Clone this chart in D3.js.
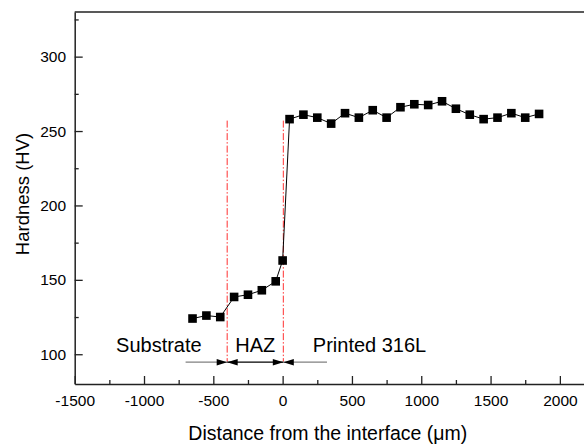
<!DOCTYPE html>
<html>
<head>
<meta charset="utf-8">
<script src="https://cdn.jsdelivr.net/npm/d3@7"></script>
<style>
  body { margin: 0; background: #fff; }
  svg { display: block; font-family: "Liberation Sans", Arial, sans-serif; }
</style>
</head>
<body>
<div id="chart"></div>
<script>
// hardness profile across the interface
var distance = [-650, -550, -450, -350, -250, -150, -50, 0, 50, 150, 250, 350, 450, 550,
                650, 750, 850, 950, 1050, 1150, 1250, 1350, 1450, 1550, 1650, 1750, 1850];
var hardness = [124, 126, 125, 138.5, 140, 143, 149, 163, 258, 261, 259, 255, 262, 259,
                264, 259, 266, 268, 267.5, 270, 265, 261, 258, 259, 262, 259, 261.5];
var xTicks = [-1500, -1000, -500, 0, 500, 1000, 1500, 2000];
var yTicks = [100, 150, 200, 250, 300];
var boundaries = [-400, 5];          // substrate | HAZ | printed
var boundaryHV = [95, 257];          // vertical extent of the dash-dot lines
var regions = ["Substrate", "HAZ", "Printed 316L"];
var arrowSpan = [-700, 320];

var width = 584, height = 444;

var svg = d3.select("#chart").append("svg")
    .attr("width", width)
    .attr("height", height);

var x = d3.scaleLinear().domain([-1500, 2200]).range([74.7, 587.6]);
var y = d3.scaleLinear().domain([80, 330]).range([384, 12]);

var pts = distance.map(function(d, i) { return {x: d, y: hardness[i]}; });
var plain = function(d) { return String(d); };

// frame (top line, right side is cropped off)
svg.append("line")
    .attr("x1", x(-1500)).attr("x2", x(2200))
    .attr("y1", y(330)).attr("y2", y(330))
    .attr("stroke", "#222").attr("stroke-width", 1.5);

// minor ticks
svg.append("g")
    .attr("transform", "translate(0," + y(80) + ")")
    .call(d3.axisBottom(x).tickValues(d3.range(-1250, 2200, 500)).tickSize(-4).tickFormat(""))
    .call(function(g) { g.select(".domain").remove(); })
    .selectAll("line").attr("stroke", "#222").attr("stroke-width", 1.3);
svg.append("g")
    .attr("transform", "translate(" + x(-1500) + ",0)")
    .call(d3.axisLeft(y).tickValues([125, 175, 225, 275, 325]).tickSize(-4).tickFormat(""))
    .call(function(g) { g.select(".domain").remove(); })
    .selectAll("line").attr("stroke", "#222").attr("stroke-width", 1.3);

// main axes
var xAxis = svg.append("g")
    .attr("transform", "translate(0," + y(80) + ")")
    .call(d3.axisBottom(x).tickValues(xTicks).tickFormat(plain)
      .tickSize(-8).tickSizeOuter(0).tickPadding(10.5));
var yAxis = svg.append("g")
    .attr("transform", "translate(" + x(-1500) + ",0)")
    .call(d3.axisLeft(y).tickValues(yTicks).tickFormat(plain)
      .tickSize(-8).tickSizeOuter(0).tickPadding(8.7));

[xAxis, yAxis].forEach(function(g) {
  g.select(".domain").attr("stroke", "#222").attr("stroke-width", 1.5);
  g.selectAll(".tick line").attr("stroke", "#222").attr("stroke-width", 1.3);
  g.selectAll("text").attr("font-size", "15.5px").attr("fill", "#000")
    .attr("font-family", "'Liberation Sans', Arial, sans-serif");
});

// axis titles
svg.append("text")
    .attr("x", 188.3).attr("y", 439.5)
    .attr("font-size", "19.5px")
    .text("Distance from the interface (\u03bcm)");
svg.append("text")
    .attr("transform", "translate(28.5," + 194 + ") rotate(-90)")
    .attr("text-anchor", "middle")
    .attr("font-size", "18.5px")
    .text("Hardness (HV)");

// boundary dash-dot lines
svg.selectAll(".bound").data(boundaries).enter().append("line")
    .attr("class", "bound")
    .attr("x1", function(d) { return x(d); }).attr("x2", function(d) { return x(d); })
    .attr("y1", y(boundaryHV[1])).attr("y2", y(boundaryHV[0]))
    .attr("stroke", "#ff3030").attr("stroke-width", 1)
    .attr("stroke-dasharray", "7,2,1.5,2");

// data line and markers
svg.append("path")
    .datum(pts)
    .attr("fill", "none")
    .attr("stroke", "#000")
    .attr("stroke-width", 1)
    .attr("d", d3.line().x(function(d) { return x(d.x); }).y(function(d) { return y(d.y); }));

var ms = 8.6;
svg.selectAll(".pt").data(pts).enter().append("rect")
    .attr("class", "pt")
    .attr("x", function(d) { return x(d.x) - ms / 2; })
    .attr("y", function(d) { return y(d.y) - ms / 2; })
    .attr("width", ms).attr("height", ms)
    .attr("fill", "#000");

// region arrows
var ay = y(boundaryHV[0]) + 0.5;
svg.append("line")
    .attr("x1", x(arrowSpan[0])).attr("x2", x(boundaries[0]))
    .attr("y1", ay).attr("y2", ay).attr("stroke", "#808080").attr("stroke-width", 1.3);
svg.append("line")
    .attr("x1", x(boundaries[1])).attr("x2", x(arrowSpan[1]))
    .attr("y1", ay).attr("y2", ay).attr("stroke", "#808080").attr("stroke-width", 1.3);
svg.append("line")
    .attr("x1", x(boundaries[0])).attr("x2", x(boundaries[1]))
    .attr("y1", ay).attr("y2", ay).attr("stroke", "#000").attr("stroke-width", 1.3);

function head(tipX, dir) {
  var len = 10.5, hw = 3.2;
  svg.append("path")
    .attr("d", "M" + tipX + "," + ay + "L" + (tipX - dir * len) + "," + (ay - hw) +
               "L" + (tipX - dir * len) + "," + (ay + hw) + "Z")
    .attr("fill", "#000");
}
boundaries.forEach(function(b) {
  head(x(b), 1);
  head(x(b), -1);
});

// region labels
var ly = 351.5;
svg.append("text").attr("x", x(boundaries[0]) - 25.5).attr("y", ly)
    .attr("text-anchor", "end").attr("font-size", "20px").text(regions[0]);
svg.append("text").attr("x", (x(boundaries[0]) + x(boundaries[1])) / 2).attr("y", ly)
    .attr("text-anchor", "middle").attr("font-size", "20px").text(regions[1]);
svg.append("text").attr("x", x(boundaries[1]) + 29.5).attr("y", ly)
    .attr("text-anchor", "start").attr("font-size", "20px").text(regions[2]);
</script>
</body>
</html>
